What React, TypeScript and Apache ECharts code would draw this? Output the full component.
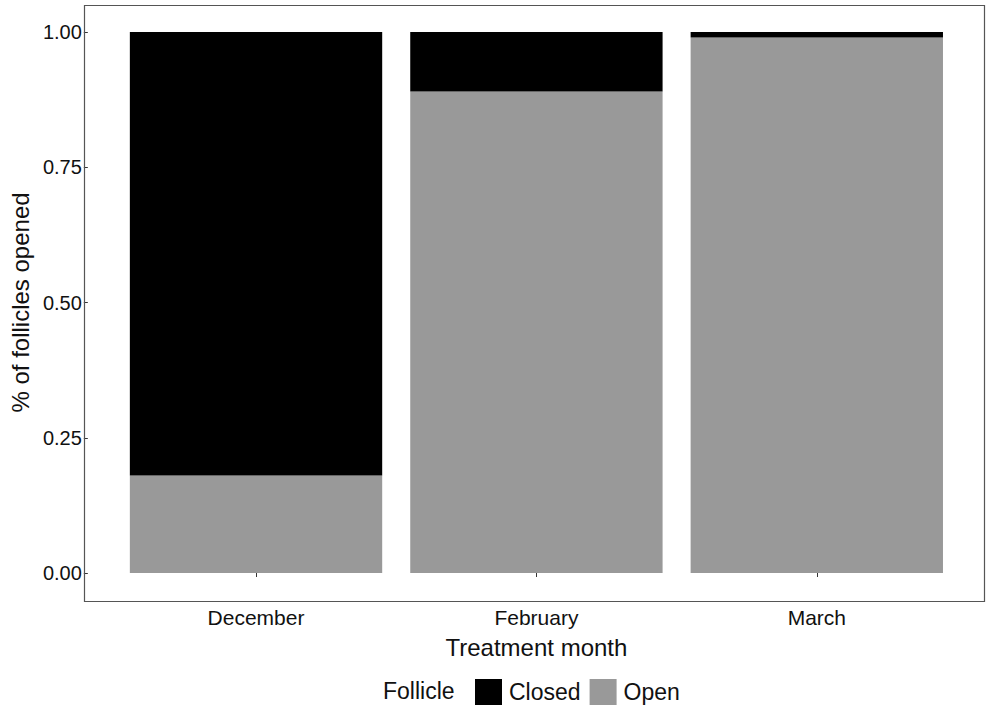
import React, { useEffect, useRef } from "react";
import * as echarts from "echarts";

const categories = ["December", "February", "March"];
const openValues = [0.18, 0.89, 0.99];
const closedValues = [0.82, 0.11, 0.01];
const yTicks = [0, 0.25, 0.5, 0.75, 1];

const FONT = "Liberation Sans, Arial, sans-serif";

export default function App() {
  const ref = useRef<HTMLDivElement>(null);
  useEffect(() => {
    const chart = echarts.init(ref.current!, null, { renderer: "svg" });
    chart.setOption({
      animation: false,
      backgroundColor: "#ffffff",
      textStyle: { fontFamily: FONT },
      grid: { left: 112, right: 35, top: 32, bottom: 137, containLabel: false },
      legend: {
        data: ["Closed", "Open"],
        left: 470,
        top: 674,
        icon: "rect",
        itemWidth: 27,
        itemHeight: 26,
        itemGap: 9,
        selectedMode: false,
        textStyle: { fontSize: 23, color: "#111", fontFamily: FONT, padding: [0, 0, 0, 2] },
      },
      xAxis: {
        type: "category",
        data: categories,
        offset: 28,
        axisLine: { show: false },
        axisTick: { show: true, length: 4, alignWithLabel: true, lineStyle: { color: "#333" } },
        axisLabel: { fontSize: 21, color: "#111", margin: 6, fontFamily: FONT },
        name: "Treatment month",
        nameLocation: "middle",
        nameGap: 34,
        nameTextStyle: { fontSize: 24, color: "#111", fontFamily: FONT },
      },
      yAxis: {
        type: "value",
        min: 0,
        max: 1,
        interval: 0.25,
        offset: 28,
        axisLine: { show: false },
        splitLine: { show: false },
        axisTick: { show: true, length: 4, lineStyle: { color: "#333" } },
        axisLabel: {
          fontSize: 20,
          color: "#111",
          margin: 6,
          fontFamily: FONT,
          formatter: (v: number) => (yTicks.includes(v) ? v.toFixed(2) : ""),
        },
        name: "% of follicles opened",
        nameLocation: "middle",
        nameGap: 52,
        nameTextStyle: { fontSize: 24, color: "#111", fontFamily: FONT },
      },
      graphic: [
        {
          type: "rect",
          shape: { x: 84.5, y: 5.5, width: 900, height: 596 },
          style: { fill: "none", stroke: "#555", lineWidth: 1.2 },
          silent: true,
          z: 100,
        },
        {
          type: "text",
          x: 383,
          y: 691,
          style: {
            text: "Follicle",
            fontSize: 23,
            fontFamily: FONT,
            fill: "#111",
            textVerticalAlign: "middle",
            verticalAlign: "middle",
          },
        },
      ],
      series: [
        {
          name: "Open",
          type: "bar",
          stack: "total",
          data: openValues,
          barCategoryGap: "10%",
          itemStyle: { color: "#999999" },
        },
        {
          name: "Closed",
          type: "bar",
          stack: "total",
          data: closedValues,
          barCategoryGap: "10%",
          itemStyle: { color: "#000000" },
        },
      ],
    });
    return () => chart.dispose();
  }, []);
  return <div ref={ref} style={{ width: 992, height: 710, position: "absolute", left: 0, top: 0 }} />;
}
